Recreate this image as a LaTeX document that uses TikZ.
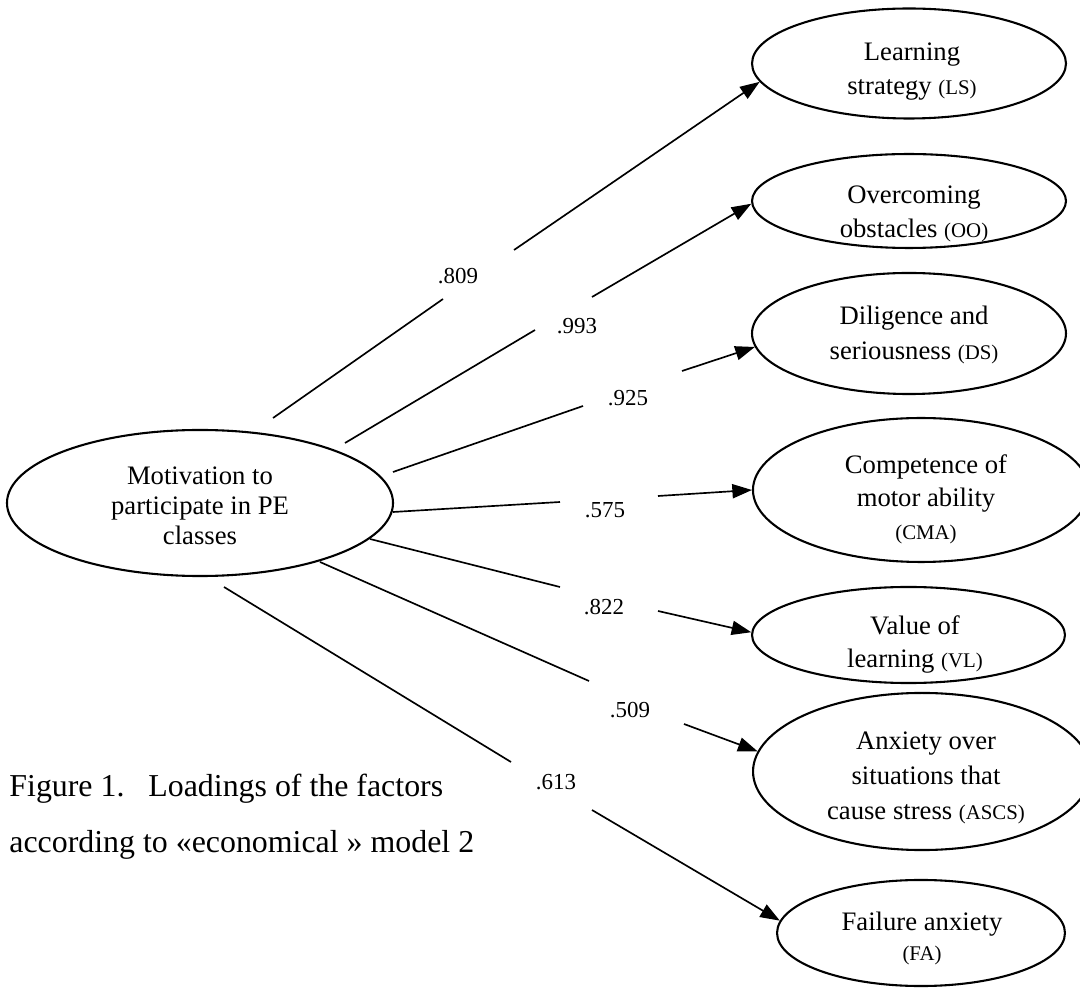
\documentclass[tikz,border=0pt]{standalone}
\usepackage{fontspec}
\setmainfont{Liberation Serif}
\usetikzlibrary{arrows.meta,shapes.geometric}
\newcommand\smallabbr[1]{{\fontsize{10}{12}\selectfont #1}}
\begin{document}
\begin{tikzpicture}[x=0.48pt,y=-0.48pt,
  factor/.style={ellipse,draw,line width=1pt,inner sep=0pt},
  ftext/.style={anchor=north,inner sep=0pt,align=center},
  link/.style={line width=0.8pt},
  arr/.style={line width=0.8pt,-{Triangle[length=9.4pt,width=6.8pt]}},
  load/.style={inner sep=0pt,font=\fontsize{11}{13}\selectfont}]
\clip (0,0) rectangle (1080,988);
\fill[white] (0,0) rectangle (1080,988);

% main latent factor
\node[factor,minimum width=185.3pt,minimum height=70.1pt] (M) at (200,503) {};
\node[ftext,font=\fontsize{12.8}{14.4}\selectfont] (Mt) at (200,466)
  {Motivation to\\participate in PE\\classes};

% indicator factors
\node[factor,minimum width=150.7pt,minimum height=52.8pt] (LS) at (909,63.5) {};
\node[ftext,font=\fontsize{12.8}{16.3}\selectfont] (LSt) at (912,42.5)
  {Learning\\strategy \smallabbr{(LS)}};

\node[factor,minimum width=150.7pt,minimum height=45.1pt] (OO) at (909,201) {};
\node[ftext,font=\fontsize{12.8}{16.3}\selectfont] (OOt) at (914,185)
  {Overcoming\\obstacles \smallabbr{(OO)}};

\node[factor,minimum width=150.7pt,minimum height=58.1pt] (DS) at (909,333.5) {};
\node[ftext,font=\fontsize{12.8}{16.8}\selectfont] (DSt) at (914,306)
  {Diligence and\\seriousness \smallabbr{(DS)}};

\node[factor,minimum width=161.3pt,minimum height=69.1pt] (CMA) at (921,490) {};
\node[ftext,font=\fontsize{12.8}{15.8}\selectfont] (CMAt) at (926,454)
  {Competence of\\motor ability\\\smallabbr{(CMA)}};

\node[factor,minimum width=150.2pt,minimum height=46.1pt] (VL) at (908.5,635) {};
\node[ftext,font=\fontsize{12.8}{16}\selectfont] (VLt) at (915,615)
  {Value of\\learning \smallabbr{(VL)}};

\node[factor,minimum width=162.2pt,minimum height=75.4pt] (ASCS) at (922,771.5) {};
\node[ftext,font=\fontsize{12.8}{17}\selectfont] (ASCSt) at (926,731)
  {Anxiety over\\situations that\\cause stress \smallabbr{(ASCS)}};

\node[factor,minimum width=138.2pt,minimum height=50.9pt] (FA) at (921,933) {};
\node[ftext,font=\fontsize{12.8}{14.4}\selectfont] (FAt) at (922,912)
  {Failure anxiety\\\smallabbr{(FA)}};

% connectors (broken where the loading is printed)
\coordinate (s1) at (273,418); \coordinate (g1a) at (443,299); \coordinate (g1b) at (514,250);
\draw[link] (s1) -- (g1a); \draw[arr] (g1b) -- (LS.187);
\node[load] (l1) at (458,276) {.809};

\coordinate (s2) at (345,443); \coordinate (g2a) at (535,330); \coordinate (g2b) at (592,297);
\draw[link] (s2) -- (g2a); \draw[arr] (g2b) -- (OO.181.5);
\node[load] (l2) at (577,326) {.993};

\coordinate (s3) at (393,472); \coordinate (g3a) at (583,406); \coordinate (g3b) at (682,371);
\draw[link] (s3) -- (g3a); \draw[arr] (g3b) -- (DS.185.3);
\node[load] (l3) at (628,398) {.925};

\coordinate (s4) at (393,512); \coordinate (g4a) at (560,502); \coordinate (g4b) at (658,496);
\draw[link] (s4) -- (g4a); \draw[arr] (g4b) -- (CMA.180.7);
\node[load] (l4) at (605,510) {.575};

\coordinate (s5) at (370,539); \coordinate (g5a) at (560,587); \coordinate (g5b) at (658,611);
\draw[link] (s5) -- (g5a); \draw[arr] (g5b) -- (VL.179.3);
\node[load] (l5) at (604,607) {.822};

\coordinate (s6) at (320,562); \coordinate (g6a) at (589,681); \coordinate (g6b) at (684,724);
\draw[link] (s6) -- (g6a); \draw[arr] (g6b) -- (ASCS.173.8);
\node[load] (l6) at (630,710) {.509};

\coordinate (s7) at (224,587); \coordinate (g7a) at (511,762); \coordinate (g7b) at (592,810);
\draw[link] (s7) -- (g7a); \draw[arr] (g7b) -- (FA.175.6);
\node[load] (l7) at (556,782) {.613};

% caption
\node[anchor=north west,inner sep=0pt,align=left,font=\fontsize{15.3}{26.9}\selectfont] (cap) at (9,774)
  {Figure 1.\hspace{0.75em}Loadings of the factors\\according to «economical » model 2};
\end{tikzpicture}
\end{document}
